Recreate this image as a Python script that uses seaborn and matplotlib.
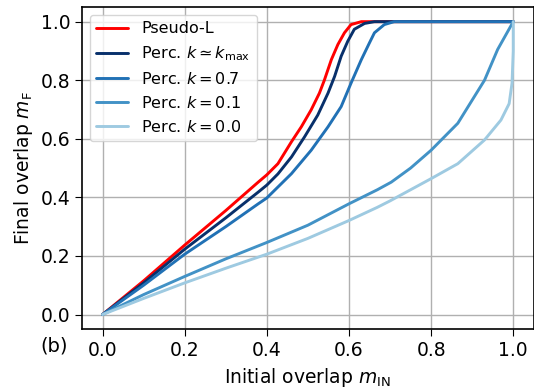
import numpy as np
import pandas as pd
import matplotlib
matplotlib.use("Agg")
import matplotlib.pyplot as plt
import seaborn as sns

# =========================================================
# DATA
# =========================================================
series_names = [
    "Pseudo-L",
    r"Perc. $k \simeq k_{\rm max}$",
    r"Perc. $k = 0.7$",
    r"Perc. $k = 0.1$",
    r"Perc. $k = 0.0$",
]
series_colors = ["#ff0000", "#08306b", "#2171b5", "#4292c6", "#9ecae1"]

pseudo_x = [0, 0.1, 0.2, 0.3, 0.379, 0.4, 0.427, 0.46, 0.484, 0.508, 0.528, 0.54,
            0.557, 0.573, 0.589, 0.605, 0.63, 1.0]
pseudo_y = [0, 0.115, 0.237, 0.355, 0.452, 0.477, 0.515, 0.59, 0.641, 0.699, 0.756, 0.80,
            0.87, 0.922, 0.962, 0.99, 1.0, 1.0]

kmax_x = [0, 0.1, 0.2, 0.3, 0.379, 0.4, 0.427, 0.46, 0.492, 0.524, 0.549, 0.565,
          0.581, 0.597, 0.613, 0.638, 0.662, 1.0]
kmax_y = [0, 0.108, 0.223, 0.33, 0.418, 0.442, 0.48, 0.538, 0.607, 0.681, 0.756, 0.813,
          0.882, 0.933, 0.974, 0.994, 1.0, 1.0]

k07_x = [0, 0.1, 0.2, 0.3, 0.379, 0.4, 0.46, 0.508, 0.549, 0.581, 0.605, 0.63, 0.65,
         0.662, 0.686, 0.71, 1.0]
k07_y = [0, 0.1, 0.206, 0.30, 0.378, 0.398, 0.481, 0.561, 0.641, 0.71, 0.79, 0.87, 0.928,
         0.962, 0.99, 1.0, 1.0]

k01_x = [0, 0.1, 0.2, 0.3, 0.4, 0.5, 0.6, 0.669, 0.703, 0.75, 0.8, 0.865, 0.93, 0.962, 1.0]
k01_y = [0, 0.068, 0.13, 0.19, 0.246, 0.305, 0.378, 0.426, 0.452, 0.50, 0.561, 0.653, 0.80,
         0.905, 1.0]

k00_x = [0, 0.1, 0.2, 0.3, 0.4, 0.5, 0.6, 0.669, 0.7, 0.8, 0.865, 0.93, 0.97, 0.99, 0.997,
         1.0, 1.0]
k00_y = [0, 0.055, 0.108, 0.158, 0.206, 0.26, 0.321, 0.366, 0.388, 0.464, 0.515, 0.596,
         0.664, 0.72, 0.79, 0.9, 1.0]

xs = [pseudo_x, kmax_x, k07_x, k01_x, k00_x]
ys = [pseudo_y, kmax_y, k07_y, k01_y, k00_y]

frames = []
for name, x, y in zip(series_names, xs, ys):
    frames.append(pd.DataFrame({"m_in": x, "m_f": y, "series": name}))
df = pd.concat(frames, ignore_index=True)

# =========================================================
# PLOT
# =========================================================
sns.set_style("ticks")
plt.rcParams["font.family"] = ["DejaVu Sans"]
plt.rcParams["text.color"] = "black"
plt.rcParams["axes.labelcolor"] = "black"
plt.rcParams["xtick.color"] = "black"
plt.rcParams["ytick.color"] = "black"

fig = plt.figure(figsize=(5.34, 3.9), dpi=100)
ax = fig.add_axes([0.1536, 0.156, 0.846, 0.826])

sns.lineplot(
    data=df, x="m_in", y="m_f", hue="series",
    hue_order=series_names, palette=series_colors,
    estimator=None, sort=False, units="series", linewidth=2.1, ax=ax
)

ax.set_xlim(-0.05, 1.05)
ax.set_ylim(-0.05, 1.05)
ax.set_xticks([0, 0.2, 0.4, 0.6, 0.8, 1.0])
ax.set_yticks([0, 0.2, 0.4, 0.6, 0.8, 1.0])
ax.xaxis.set_major_formatter(matplotlib.ticker.FormatStrFormatter("%.1f"))
ax.yaxis.set_major_formatter(matplotlib.ticker.FormatStrFormatter("%.1f"))
ax.tick_params(labelsize=13.5, direction="out", length=5, color="black")

ax.grid(True, color="#b0b0b0", linewidth=1)
for s in ax.spines.values():
    s.set_color("black")
    s.set_linewidth(1.2)

ax.set_xlabel(r"Initial overlap $m_{\rm IN}$", fontsize=13.5)
ax.set_ylabel(r"Final overlap $m_{\rm F}$", fontsize=13.5)

leg = ax.legend(loc="upper left", fontsize=11.5, frameon=True,
                handlelength=2.0, borderaxespad=0.5)
for line in leg.get_lines():
    line.set_linewidth(2.1)

fig.text(0.101, 0.113, "(b)", fontsize=14, ha="center", va="center")

fig.savefig("out.png", dpi=100)
